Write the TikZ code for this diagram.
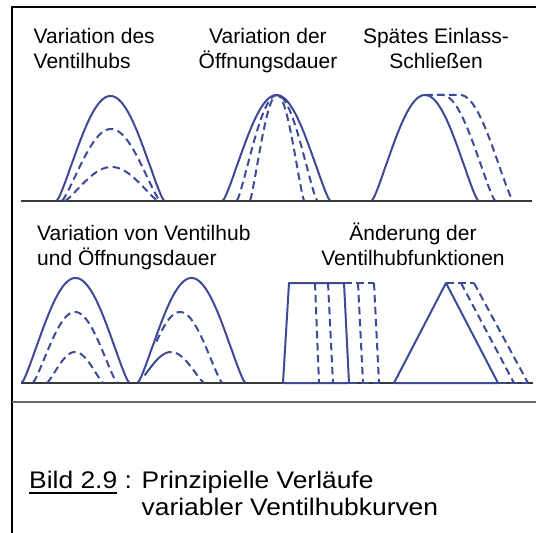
\documentclass[tikz,border=0pt]{standalone}
\usepackage{fontspec}
\setmainfont{Liberation Sans}
\newfontfamily\capfont[FakeStretch=1.1]{Liberation Sans}
\definecolor{vblue}{RGB}{62,74,150}
\newcommand\bellpath[6]{plot[domain=#5:#6,samples=70,variable=\t]({#1+#2*\t},{#4-#3*((1-cos(360*\t))/2+0.0002)^0.6})}
\newcommand\ulbox[1]{\setbox0\hbox{#1}\rlap{\rule[-5.6pt]{\wd0}{1.9pt}}\box0\relax}
\begin{document}
\begin{tikzpicture}[x=1pt,y=-1pt,
  curve/.style={draw=vblue, line width=2pt, line join=round},
  dcurve/.style={curve, dash pattern=on 7.5pt off 4.5pt},
  axisline/.style={draw=black!78, line width=1.6pt},
  frameline/.style={draw=black, line width=2pt},
  sepline/.style={draw=black!60, line width=1.3pt},
  lbl/.style={inner sep=0pt, font=\fontsize{21}{25}\selectfont},
  captext/.style={inner sep=0pt, font=\capfont\fontsize{24}{27}\selectfont}]
\useasboundingbox (0,0) rectangle (536,533);
% frame
\draw[frameline] (11.5,534) -- (11.5,7) -- (537,7);
\draw[sepline] (11.5,402) -- (537,402);
% baselines
\draw[axisline] (21,201) -- (532,201);
\draw[axisline] (21,383) -- (533,383);
% labels
\node[lbl, anchor=base west] (t1) at (33.5,43) {\begin{tabular}[t]{@{}l@{}}Variation des\\Ventilhubs\end{tabular}};
\node[lbl, anchor=base] (t2) at (268,43) {\begin{tabular}[t]{@{}c@{}}Variation der\\Öffnungsdauer\end{tabular}};
\node[lbl, anchor=base] (t3) at (436,43) {\begin{tabular}[t]{@{}c@{}}Spätes Einlass-\\Schließen\end{tabular}};
\node[lbl, anchor=base west] (t4) at (37,240) {\begin{tabular}[t]{@{}l@{}}Variation von Ventilhub\\und Öffnungsdauer\end{tabular}};
\node[lbl, anchor=base] (t5) at (413,240) {\begin{tabular}[t]{@{}c@{}}Änderung der\\Ventilhubfunktionen\end{tabular}};
\node[captext, anchor=base west] (caption) at (29,488) {\begin{tabular}[t]{@{}l@{}}\ulbox{Bild 2.9} : Prinzipielle Verläufe\\\phantom{Bild 2.9 : }variabler Ventilhubkurven\end{tabular}};
% top row, plot 1
\draw[curve] \bellpath{57}{107}{105}{201}{0}{1};
\draw[dcurve] \bellpath{62}{98}{72}{201}{0}{1};
\draw[dcurve] \bellpath{65}{93}{34}{201}{0}{1};
% top row, plot 2
\draw[curve] \bellpath{223}{107}{106}{201}{0}{1};
\draw[dcurve] \bellpath{237}{80}{106}{201}{0}{1};
\draw[dcurve] \bellpath{250}{54}{106}{201}{0}{1};
% top row, plot 3
\draw[curve] \bellpath{372}{106}{106}{201}{0}{1};
\draw[dcurve] (425,95) -- plot[domain=0.5:1,samples=50,variable=\t]({389+106*\t},{201-106*((1-cos(360*\t))/2+0.0002)^0.6});
\draw[dcurve] (425,95) -- plot[domain=0.5:1,samples=50,variable=\t]({407+106*\t},{201-106*((1-cos(360*\t))/2+0.0002)^0.6});
% bottom row, plot A
\draw[curve] \bellpath{22}{107}{105}{383}{0}{1};
\draw[dcurve] \bellpath{33}{84}{71}{383}{0}{1};
\draw[dcurve] \bellpath{47}{56}{31}{383}{0}{1};
% bottom row, plot B
\draw[curve] \bellpath{138}{107}{105}{383}{0}{1};
\draw[dcurve] \bellpath{138}{84}{71}{383}{0.22}{1};
\draw[curve] \bellpath{138}{66}{31}{383}{0.1}{0.4};
\draw[dcurve] \bellpath{138}{66}{31}{383}{0.4}{1};
% bottom row, plot C
\draw[curve] (283,383) -- (289,283) -- (344,283) -- (349,383) -- cycle;
\draw[dcurve] (315,283) -- (319,383);
\draw[dcurve] (328,283) -- (333,383);
\draw[dcurve] (344,283) -- (374,283);
\draw[dcurve] (358,283) -- (363,383);
\draw[dcurve] (374,283) -- (379,383);
\draw[dcurve] (349,383) -- (379,383);
% bottom row, plot D
\draw[curve] (394,383) -- (446,283) -- (498,383) -- cycle;
\draw[dcurve] (446,283) -- (474,283);
\draw[dcurve] (461,283) -- (514,383);
\draw[dcurve] (474,283) -- (528,383);
\draw[dcurve] (498,383) -- (528,383);
\end{tikzpicture}
\end{document}
